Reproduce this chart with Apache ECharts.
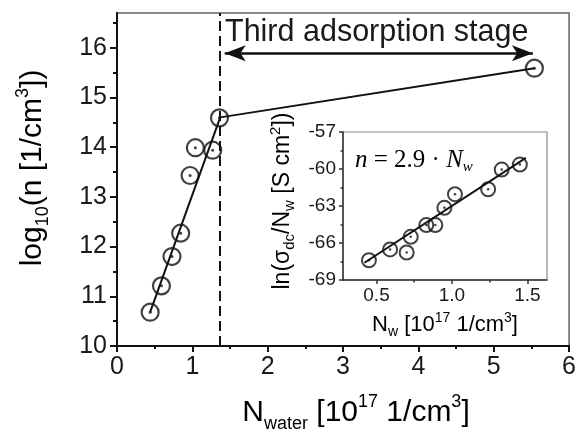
<!DOCTYPE html>
<html><head><meta charset="utf-8">
<script src="https://cdn.jsdelivr.net/npm/echarts@6/dist/echarts.min.js"></script>
<style>html,body{margin:0;padding:0;background:#fff}#c{width:579px;height:432px}</style>
</head><body><div id="c"></div>
<script>
// ---- main plot data ----
const mainX = [0.44, 0.59, 0.73, 0.845, 0.97, 1.04, 1.27, 1.36, 5.54];
const mainY = [10.68, 11.21, 11.80, 12.27, 13.43, 13.99, 13.94, 14.59, 15.59];
const fitAX = [0.44, 1.37];
const fitAY = [10.68, 14.60];
const fitBX = [1.37, 5.54];
const fitBY = [14.60, 15.59];
const stageX = 1.365;
const arrowX = [1.43, 5.52];
const arrowY = 15.89;
const mainYTicks = [10, 11, 12, 13, 14, 15, 16];
const mainYMinor = [10.5, 11.5, 12.5, 13.5, 14.5, 15.5, 16.5];
// ---- inset data ----
const insetX = [0.45, 0.59, 0.70, 0.727, 0.83, 0.89, 0.95, 1.02, 1.24, 1.33, 1.45];
const insetY = [-67.4, -66.52, -66.77, -65.5, -64.55, -64.55, -63.15, -62.04, -61.64, -60.05, -59.64];
const insetFitX = [0.42, 1.49];
const insetFitY = [-67.6, -59.1];
const insetXTicks = [0.5, 1.0, 1.5];
const insetXMinor = [0.75, 1.25];

const SANS = 'Liberation Sans, Arial, sans-serif';
const SERIF = 'Liberation Serif, Times New Roman, serif';
const INK = '#1a1a1a';
const zip = (a, b) => a.map((v, i) => [v, b[i]]);

const chart = echarts.init(document.getElementById('c'), null, {renderer: 'canvas'});

function richSet(main, small, lh) {
  return {
    a: {fontSize: main, fontFamily: SANS, color: INK, lineHeight: lh},
    s: {fontSize: small, fontFamily: SANS, color: INK, lineHeight: small, verticalAlign: 'bottom'},
    p: {fontSize: small, fontFamily: SANS, color: INK, lineHeight: small, verticalAlign: 'top'}
  };
}

const option = {
  animation: false,
  backgroundColor: '#fff',
  grid: [
    {left: 117, top: 13, right: 8, bottom: 86, show: true, borderColor: '#666', borderWidth: 1.5, containLabel: false},
    {left: 343, top: 132, right: 32, bottom: 152, show: true, borderColor: '#888', borderWidth: 1.2, containLabel: false}
  ],
  xAxis: [
    {gridIndex: 0, type: 'value', position: 'bottom', min: 0, max: 6, interval: 1,
     axisLine: {lineStyle: {color: '#111', width: 2}},
     axisTick: {length: 6, lineStyle: {color: '#111', width: 2}},
     minorTick: {show: true, splitNumber: 2, length: 3, lineStyle: {color: '#111', width: 2}},
     axisLabel: {fontSize: 25, color: INK, fontFamily: SANS, margin: 9},
     splitLine: {show: false}},
    {gridIndex: 1, type: 'value', position: 'bottom', min: 0.278, max: 1.63,
     axisLine: {lineStyle: {color: '#333', width: 1.5}},
     axisTick: {customValues: insetXTicks, length: 4, lineStyle: {color: '#333', width: 1.5}},
     axisLabel: {customValues: insetXTicks, formatter: v => v.toFixed(1), fontSize: 19, color: INK, fontFamily: SANS, margin: 6},
     splitLine: {show: false}},
    {gridIndex: 1, type: 'value', position: 'bottom', offset: 0, min: 0.278, max: 1.63,
     axisLine: {show: false},
     axisTick: {customValues: insetXMinor, length: 2.5, lineStyle: {color: '#333', width: 1.5}},
     axisLabel: {show: false}, splitLine: {show: false}}
  ],
  yAxis: [
    {gridIndex: 0, type: 'value', position: 'left', min: 10, max: 16.7,
     axisLine: {show: true, lineStyle: {color: '#111', width: 2}},
     axisTick: {show: true, customValues: mainYTicks, length: 7, lineStyle: {color: '#111', width: 2}},
     axisLabel: {customValues: mainYTicks, fontSize: 25, color: INK, fontFamily: SANS, margin: 10},
     splitLine: {show: false}},
    {gridIndex: 0, type: 'value', position: 'left', offset: 0, min: 10, max: 16.7,
     axisLine: {show: false},
     axisTick: {show: true, customValues: mainYMinor, length: 4, lineStyle: {color: '#111', width: 2}},
     axisLabel: {show: false}, splitLine: {show: false}},
    {gridIndex: 1, type: 'value', position: 'left', min: -69, max: -57, interval: 3,
     axisLine: {show: true, lineStyle: {color: '#333', width: 1.5}},
     axisTick: {show: true, length: 4, lineStyle: {color: '#333', width: 1.5}},
     minorTick: {show: true, splitNumber: 2, length: 2.5, lineStyle: {color: '#333', width: 1.5}},
     axisLabel: {fontSize: 19, color: INK, fontFamily: SANS, margin: 7},
     splitLine: {show: false}}
  ],
  series: [
    {type: 'line', xAxisIndex: 0, yAxisIndex: 0, data: zip(fitAX, fitAY), symbol: 'none',
     lineStyle: {color: '#111', width: 2}, z: 3,
     markLine: {silent: true, symbol: ['none', 'none'], label: {show: false},
       lineStyle: {type: [10, 5], color: '#111', width: 2},
       data: [{xAxis: stageX}]}},
    {type: 'line', xAxisIndex: 0, yAxisIndex: 0, data: zip(fitBX, fitBY), symbol: 'none',
     lineStyle: {color: '#111', width: 2}, z: 3,
     markLine: {silent: true, symbol: ['arrow', 'arrow'], symbolSize: [12, 21], label: {show: false},
       lineStyle: {type: 'solid', color: '#111', width: 2.5},
       data: [[{coord: [arrowX[0], arrowY]}, {coord: [arrowX[1], arrowY]}]]}},
    {type: 'scatter', xAxisIndex: 0, yAxisIndex: 0, data: zip(mainX, mainY), symbol: 'circle', symbolSize: 17,
     itemStyle: {color: 'rgba(0,0,0,0)', borderColor: '#111', borderWidth: 2.2}, z: 4},
    {type: 'scatter', xAxisIndex: 0, yAxisIndex: 0, data: zip(mainX, mainY), symbol: 'circle', symbolSize: 3,
     itemStyle: {color: '#111'}, z: 4},
    {type: 'line', xAxisIndex: 1, yAxisIndex: 2, data: zip(insetFitX, insetFitY), symbol: 'none',
     lineStyle: {color: '#111', width: 2}, z: 3},
    {type: 'scatter', xAxisIndex: 1, yAxisIndex: 2, data: zip(insetX, insetY), symbol: 'circle', symbolSize: 14,
     itemStyle: {color: 'rgba(0,0,0,0)', borderColor: '#111', borderWidth: 2}, z: 4},
    {type: 'scatter', xAxisIndex: 1, yAxisIndex: 2, data: zip(insetX, insetY), symbol: 'circle', symbolSize: 2.5,
     itemStyle: {color: '#111'}, z: 4}
  ],
  graphic: [
    {type: 'text', x: 225, y: 33, style: {text: 'Third adsorption stage', fontSize: 30.5, fontFamily: SANS, fill: INK, align: 'left', verticalAlign: 'middle'}},
    {type: 'text', x: 33, y: 168, rotation: Math.PI / 2,
     style: {text: '{a|log}{s|10}{a|(n [1/cm}{p|3}{a|])}', rich: richSet(30, 18, 38), align: 'center', verticalAlign: 'middle'}},
    {type: 'text', x: 356, y: 413,
     style: {text: '{a|N}{s|water}{a| [10}{p|17}{a| 1/cm}{p|3}{a|]}', rich: richSet(30, 18, 40), align: 'center', verticalAlign: 'middle'}},
    {type: 'text', x: 283, y: 201, rotation: Math.PI / 2,
     style: {text: '{a|ln(σ}{s|dc}{a|/N}{s|w}{a| [S cm}{p|2}{a|])}', rich: richSet(23, 15, 29), align: 'center', verticalAlign: 'middle'}},
    {type: 'text', x: 445, y: 325,
     style: {text: '{a|N}{s|w}{a| [10}{p|17}{a| 1/cm}{p|3}{a|]}', rich: richSet(22, 14, 28), align: 'center', verticalAlign: 'middle'}},
    {type: 'text', x: 355, y: 160,
     style: {text: '{i|n}{r| = 2.9 · }{i|N}{w|w}',
       rich: {
         i: {fontSize: 25, fontFamily: SERIF, fontStyle: 'italic', color: INK, lineHeight: 30},
         r: {fontSize: 25, fontFamily: SERIF, color: INK, lineHeight: 30},
         w: {fontSize: 15, fontFamily: SERIF, fontStyle: 'italic', color: INK, lineHeight: 15, verticalAlign: 'bottom'}
       }, align: 'left', verticalAlign: 'middle'}}
  ]
};
chart.setOption(option);
</script>
</body></html>
